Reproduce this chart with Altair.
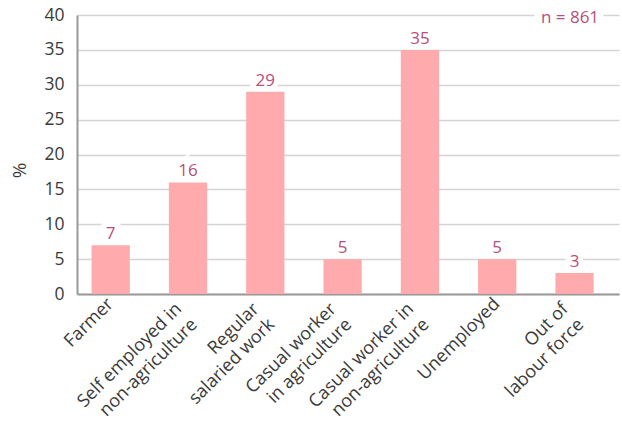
import altair as alt
import pandas as pd

categories = [
    "Farmer",
    "Self employed in\nnon-agriculture",
    "Regular\nsalaried work",
    "Casual worker\nin agriculture",
    "Casual worker in\nnon-agriculture",
    "Unemployed",
    "Out of\nlabour force",
]
values = [7, 16, 29, 5, 35, 5, 3]
y_ticks = [0, 5, 10, 15, 20, 25, 30, 35, 40]
note = "n = 861"

df = pd.DataFrame({"cat": categories, "val": values})

FONT = "Open Sans"
BAR = "#FFABAE"
LAB = "#B5507A"
TXT = "#3a3a3a"

two_line = "indexof(datum.value, '\\n') >= 0"

x_enc = alt.X(
    "cat:N",
    sort=None,
    scale=alt.Scale(paddingInner=0.505, paddingOuter=0.258, align=0.365),
    axis=alt.Axis(
        title=None,
        labelAngle=-45,
        labelAlign="right",
        labelBaseline="middle",
        labelExpr="split(datum.label, '\\n')",
        labelFont=FONT,
        labelFontSize=18,
        labelColor=TXT,
        labelPadding={"condition": {"test": two_line, "value": 12}, "value": 7},
        labelOffset={"condition": {"test": two_line, "value": -9}, "value": 0},
        labelLineHeight=22,
        ticks=False,
        domainColor="#999999",
        domainWidth=2,
        grid=False,
    ),
)
y_enc = alt.Y(
    "val:Q",
    scale=alt.Scale(domain=[0, 40], nice=False),
    axis=alt.Axis(
        title="%",
        titleFont=FONT,
        titleFontSize=19,
        titleFontWeight="normal",
        titleColor=TXT,
        titleX=-58,
        titleY=155,
        titleAngle=-90,
        titleAlign="center",
        titleBaseline="middle",
        values=y_ticks,
        labelFont=FONT,
        labelFontSize=17.5,
        labelColor=TXT,
        labelPadding=13,
        ticks=False,
        domainColor="#999999",
        domainWidth=2,
        gridColor="#d4d4d4",
        gridWidth=1.3,
    ),
)

base = alt.Chart(df).encode(x=x_enc, y=y_enc)

bars = base.mark_bar(color=BAR)

halo = base.mark_text(
    font=FONT, fontSize=17, baseline="alphabetic", dy=-6,
    stroke="white", strokeWidth=10, color="white",
).encode(text="val:Q")

labels = base.mark_text(
    font=FONT, fontSize=17, baseline="alphabetic", dy=-6, color=LAB
).encode(text="val:Q")

note_df = pd.DataFrame({"t": [note]})
note_halo = alt.Chart(note_df).mark_text(
    font=FONT, fontSize=17, baseline="middle", align="center",
    stroke="white", strokeWidth=16, color="white",
).encode(x=alt.value(493), y=alt.value(3), text="t:N")
note_txt = alt.Chart(note_df).mark_text(
    font=FONT, fontSize=17, baseline="middle", align="center", color=LAB
).encode(x=alt.value(493), y=alt.value(3), text="t:N")

chart = (
    alt.layer(bars, halo, labels, note_halo, note_txt)
    .properties(
        width=542,
        height=279,
        autosize=alt.AutoSizeParams(type="none"),
        padding={"left": 77, "top": 15, "right": 3, "bottom": 128},
        background="white",
    )
    .configure_view(stroke=None)
)

chart.save("out.html", embed_options={"renderer": "svg", "actions": False})
